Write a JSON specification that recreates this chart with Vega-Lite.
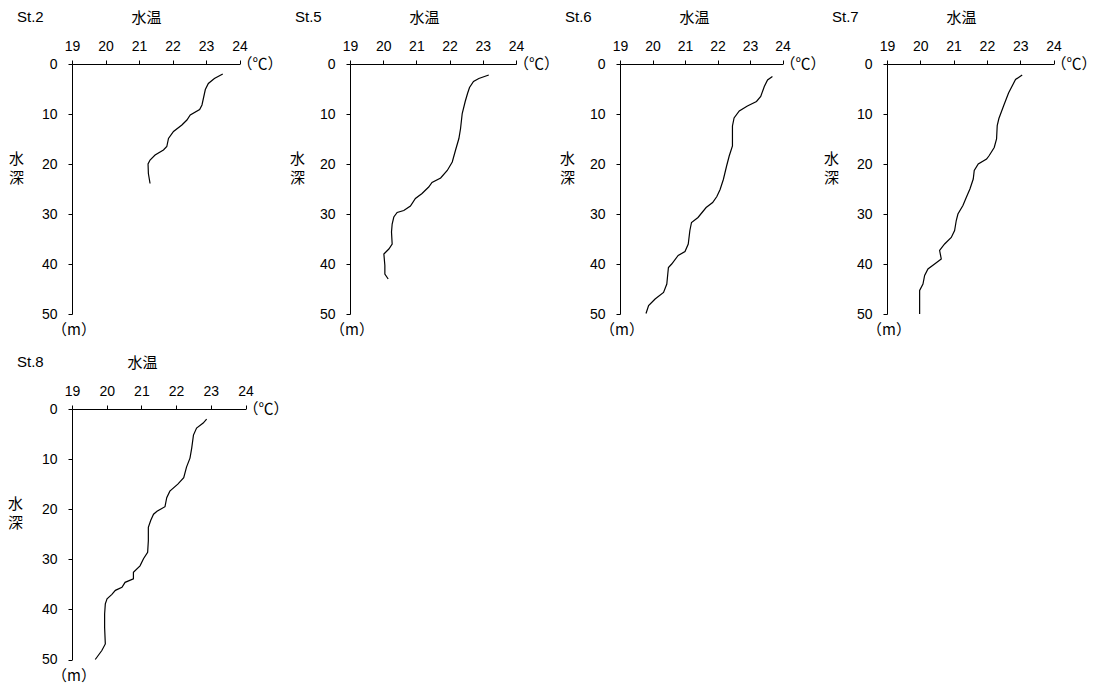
{
  "$schema": "https://vega.github.io/schema/vega-lite/v6.json",
  "padding": {"left": 7, "top": 10, "right": 0, "bottom": 5},
  "background": "white",
  "datasets": {
    "profiles": [
      {"st": "St.2", "d": 2.0, "t": 23.50}, {"st": "St.2", "d": 2.9, "t": 23.25}, {"st": "St.2", "d": 3.9, "t": 23.07}, {"st": "St.2", "d": 5.1, "t": 22.98}, {"st": "St.2", "d": 8.2, "t": 22.88}, {"st": "St.2", "d": 9.1, "t": 22.81}, {"st": "St.2", "d": 10.2, "t": 22.53}, {"st": "St.2", "d": 11.2, "t": 22.43}, {"st": "St.2", "d": 12.2, "t": 22.28}, {"st": "St.2", "d": 13.5, "t": 22.03}, {"st": "St.2", "d": 14.9, "t": 21.88}, {"st": "St.2", "d": 16.5, "t": 21.83}, {"st": "St.2", "d": 17.2, "t": 21.73}, {"st": "St.2", "d": 18.2, "t": 21.48}, {"st": "St.2", "d": 19.2, "t": 21.33}, {"st": "St.2", "d": 20.0, "t": 21.27}, {"st": "St.2", "d": 21.9, "t": 21.28}, {"st": "St.2", "d": 23.9, "t": 21.33},
      {"st": "St.5", "d": 2.2, "t": 23.18}, {"st": "St.5", "d": 2.9, "t": 22.88}, {"st": "St.5", "d": 3.5, "t": 22.72}, {"st": "St.5", "d": 4.7, "t": 22.60}, {"st": "St.5", "d": 5.9, "t": 22.54}, {"st": "St.5", "d": 7.5, "t": 22.47}, {"st": "St.5", "d": 9.9, "t": 22.38}, {"st": "St.5", "d": 12.9, "t": 22.33}, {"st": "St.5", "d": 14.9, "t": 22.28}, {"st": "St.5", "d": 17.2, "t": 22.18}, {"st": "St.5", "d": 19.6, "t": 22.08}, {"st": "St.5", "d": 21.3, "t": 21.93}, {"st": "St.5", "d": 22.8, "t": 21.73}, {"st": "St.5", "d": 23.7, "t": 21.47}, {"st": "St.5", "d": 24.6, "t": 21.37}, {"st": "St.5", "d": 25.9, "t": 21.17}, {"st": "St.5", "d": 26.9, "t": 20.97}, {"st": "St.5", "d": 28.4, "t": 20.82}, {"st": "St.5", "d": 29.3, "t": 20.62}, {"st": "St.5", "d": 29.7, "t": 20.42}, {"st": "St.5", "d": 30.6, "t": 20.32}, {"st": "St.5", "d": 32.0, "t": 20.27}, {"st": "St.5", "d": 33.6, "t": 20.25}, {"st": "St.5", "d": 36.0, "t": 20.27}, {"st": "St.5", "d": 37.0, "t": 20.17}, {"st": "St.5", "d": 38.0, "t": 20.02}, {"st": "St.5", "d": 40.3, "t": 20.05}, {"st": "St.5", "d": 42.0, "t": 20.05}, {"st": "St.5", "d": 43.0, "t": 20.15},
      {"st": "St.6", "d": 2.5, "t": 23.69}, {"st": "St.6", "d": 3.2, "t": 23.54}, {"st": "St.6", "d": 4.5, "t": 23.44}, {"st": "St.6", "d": 6.5, "t": 23.33}, {"st": "St.6", "d": 7.5, "t": 23.20}, {"st": "St.6", "d": 8.4, "t": 22.92}, {"st": "St.6", "d": 9.4, "t": 22.67}, {"st": "St.6", "d": 10.8, "t": 22.51}, {"st": "St.6", "d": 12.4, "t": 22.46}, {"st": "St.6", "d": 16.4, "t": 22.46}, {"st": "St.6", "d": 18.4, "t": 22.36}, {"st": "St.6", "d": 20.4, "t": 22.28}, {"st": "St.6", "d": 23.1, "t": 22.18}, {"st": "St.6", "d": 25.1, "t": 22.08}, {"st": "St.6", "d": 26.5, "t": 21.98}, {"st": "St.6", "d": 27.7, "t": 21.85}, {"st": "St.6", "d": 28.7, "t": 21.65}, {"st": "St.6", "d": 30.7, "t": 21.40}, {"st": "St.6", "d": 31.7, "t": 21.20}, {"st": "St.6", "d": 33.3, "t": 21.15}, {"st": "St.6", "d": 36.0, "t": 21.10}, {"st": "St.6", "d": 37.5, "t": 21.00}, {"st": "St.6", "d": 38.3, "t": 20.79}, {"st": "St.6", "d": 40.0, "t": 20.59}, {"st": "St.6", "d": 40.7, "t": 20.49}, {"st": "St.6", "d": 42.0, "t": 20.47}, {"st": "St.6", "d": 44.0, "t": 20.44}, {"st": "St.6", "d": 45.7, "t": 20.34}, {"st": "St.6", "d": 47.0, "t": 20.08}, {"st": "St.6", "d": 48.3, "t": 19.88}, {"st": "St.6", "d": 49.9, "t": 19.80},
      {"st": "St.7", "d": 2.2, "t": 23.06}, {"st": "St.7", "d": 3.1, "t": 22.86}, {"st": "St.7", "d": 5.8, "t": 22.65}, {"st": "St.7", "d": 8.4, "t": 22.50}, {"st": "St.7", "d": 10.9, "t": 22.36}, {"st": "St.7", "d": 12.3, "t": 22.31}, {"st": "St.7", "d": 15.0, "t": 22.29}, {"st": "St.7", "d": 16.7, "t": 22.22}, {"st": "St.7", "d": 18.3, "t": 22.07}, {"st": "St.7", "d": 19.0, "t": 21.99}, {"st": "St.7", "d": 20.0, "t": 21.74}, {"st": "St.7", "d": 21.3, "t": 21.62}, {"st": "St.7", "d": 23.0, "t": 21.59}, {"st": "St.7", "d": 25.0, "t": 21.49}, {"st": "St.7", "d": 26.7, "t": 21.38}, {"st": "St.7", "d": 28.3, "t": 21.28}, {"st": "St.7", "d": 30.0, "t": 21.13}, {"st": "St.7", "d": 31.3, "t": 21.08}, {"st": "St.7", "d": 33.3, "t": 21.03}, {"st": "St.7", "d": 34.7, "t": 20.93}, {"st": "St.7", "d": 36.0, "t": 20.73}, {"st": "St.7", "d": 37.3, "t": 20.58}, {"st": "St.7", "d": 39.0, "t": 20.63}, {"st": "St.7", "d": 40.0, "t": 20.43}, {"st": "St.7", "d": 41.0, "t": 20.23}, {"st": "St.7", "d": 42.3, "t": 20.13}, {"st": "St.7", "d": 44.0, "t": 20.08}, {"st": "St.7", "d": 45.3, "t": 19.98}, {"st": "St.7", "d": 50.0, "t": 19.98},
      {"st": "St.8", "d": 2.0, "t": 22.88}, {"st": "St.8", "d": 2.8, "t": 22.78}, {"st": "St.8", "d": 3.8, "t": 22.59}, {"st": "St.8", "d": 5.2, "t": 22.50}, {"st": "St.8", "d": 7.8, "t": 22.45}, {"st": "St.8", "d": 9.8, "t": 22.40}, {"st": "St.8", "d": 11.6, "t": 22.30}, {"st": "St.8", "d": 13.7, "t": 22.22}, {"st": "St.8", "d": 15.0, "t": 22.05}, {"st": "St.8", "d": 16.4, "t": 21.82}, {"st": "St.8", "d": 17.7, "t": 21.73}, {"st": "St.8", "d": 19.5, "t": 21.68}, {"st": "St.8", "d": 20.4, "t": 21.45}, {"st": "St.8", "d": 21.0, "t": 21.35}, {"st": "St.8", "d": 22.2, "t": 21.27}, {"st": "St.8", "d": 23.6, "t": 21.20}, {"st": "St.8", "d": 26.3, "t": 21.20}, {"st": "St.8", "d": 28.6, "t": 21.18}, {"st": "St.8", "d": 29.9, "t": 21.06}, {"st": "St.8", "d": 31.3, "t": 20.96}, {"st": "St.8", "d": 32.6, "t": 20.77}, {"st": "St.8", "d": 33.9, "t": 20.77}, {"st": "St.8", "d": 34.6, "t": 20.53}, {"st": "St.8", "d": 35.6, "t": 20.44}, {"st": "St.8", "d": 36.2, "t": 20.25}, {"st": "St.8", "d": 37.0, "t": 20.15}, {"st": "St.8", "d": 37.9, "t": 20.01}, {"st": "St.8", "d": 38.9, "t": 19.96}, {"st": "St.8", "d": 40.9, "t": 19.94}, {"st": "St.8", "d": 43.6, "t": 19.94}, {"st": "St.8", "d": 46.9, "t": 19.96}, {"st": "St.8", "d": 48.2, "t": 19.86}, {"st": "St.8", "d": 50.0, "t": 19.67}
    ],
    "one": [{"k": 1}]
  },
  "columns": 4,
  "align": "none",
  "bounds": "flush",
  "spacing": {"row": 95, "column": 104},
  "concat": [
    {
      "title": {"text": "St.2"},
      "width": 167.5, "height": 250,
      "layer": [
        {"data": {"name": "profiles"}, "transform": [{"filter": "datum.st === 'St.2'"}],
         "mark": {"type": "line", "color": "black", "strokeWidth": 1.2},
         "encoding": {
           "x": {"field": "t", "type": "quantitative", "scale": {"domain": [19, 24], "nice": false, "zero": false}, "axis": {"orient": "top", "values": [19, 20, 21, 22, 23, 24], "title": "水温", "titleX": 74, "titleY": -47, "titleAlign": "center", "titleBaseline": "middle", "labelPadding": 7}},
           "y": {"field": "d", "type": "quantitative", "scale": {"domain": [0, 50], "reverse": true, "nice": false, "zero": false}, "axis": {"values": [0, 10, 20, 30, 40, 50], "title": ["水", "深"], "titleAngle": 0, "titleX": -56, "titleY": 94, "titleAlign": "center", "titleBaseline": "middle", "titleLineHeight": 19, "labelPadding": 11}},
           "order": {"field": "d", "type": "quantitative"}}},
        {"data": {"name": "one"},
         "mark": {"type": "text", "text": "（℃）", "align": "left", "baseline": "middle", "dx": -2, "fontSize": 15, "font": "Noto Sans CJK JP", "color": "black"},
         "encoding": {
           "x": {"datum": 24, "type": "quantitative", "scale": {"domain": [19, 24], "nice": false, "zero": false}, "axis": {"orient": "top", "values": [19, 20, 21, 22, 23, 24], "title": "水温", "titleX": 74, "titleY": -47, "titleAlign": "center", "titleBaseline": "middle", "labelPadding": 7}},
           "y": {"datum": 0, "type": "quantitative", "scale": {"domain": [0, 50], "reverse": true, "nice": false, "zero": false}, "axis": {"values": [0, 10, 20, 30, 40, 50], "title": ["水", "深"], "titleAngle": 0, "titleX": -56, "titleY": 94, "titleAlign": "center", "titleBaseline": "middle", "titleLineHeight": 19, "labelPadding": 11}}}},
        {"data": {"name": "one"},
         "mark": {"type": "text", "text": "（m）", "align": "center", "baseline": "middle", "dx": 2, "dy": 16, "fontSize": 15, "font": "Noto Sans CJK JP", "color": "black"},
         "encoding": {
           "x": {"datum": 19, "type": "quantitative", "scale": {"domain": [19, 24], "nice": false, "zero": false}, "axis": {"orient": "top", "values": [19, 20, 21, 22, 23, 24], "title": "水温", "titleX": 74, "titleY": -47, "titleAlign": "center", "titleBaseline": "middle", "labelPadding": 7}},
           "y": {"datum": 50, "type": "quantitative", "scale": {"domain": [0, 50], "reverse": true, "nice": false, "zero": false}, "axis": {"values": [0, 10, 20, 30, 40, 50], "title": ["水", "深"], "titleAngle": 0, "titleX": -56, "titleY": 94, "titleAlign": "center", "titleBaseline": "middle", "titleLineHeight": 19, "labelPadding": 11}}}}
      ]
    },
    {
      "title": {"text": "St.5"},
      "width": 166, "height": 250,
      "layer": [
        {"data": {"name": "profiles"}, "transform": [{"filter": "datum.st === 'St.5'"}],
         "mark": {"type": "line", "color": "black", "strokeWidth": 1.2},
         "encoding": {
           "x": {"field": "t", "type": "quantitative", "scale": {"domain": [19, 24], "nice": false, "zero": false}, "axis": {"orient": "top", "values": [19, 20, 21, 22, 23, 24], "title": "水温", "titleX": 74, "titleY": -47, "titleAlign": "center", "titleBaseline": "middle", "labelPadding": 7}},
           "y": {"field": "d", "type": "quantitative", "scale": {"domain": [0, 50], "reverse": true, "nice": false, "zero": false}, "axis": {"values": [0, 10, 20, 30, 40, 50], "title": ["水", "深"], "titleAngle": 0, "titleX": -53, "titleY": 94, "titleAlign": "center", "titleBaseline": "middle", "titleLineHeight": 19, "labelPadding": 11}},
           "order": {"field": "d", "type": "quantitative"}}},
        {"data": {"name": "one"},
         "mark": {"type": "text", "text": "（℃）", "align": "left", "baseline": "middle", "dx": -2, "fontSize": 15, "font": "Noto Sans CJK JP", "color": "black"},
         "encoding": {
           "x": {"datum": 24, "type": "quantitative", "scale": {"domain": [19, 24], "nice": false, "zero": false}, "axis": {"orient": "top", "values": [19, 20, 21, 22, 23, 24], "title": "水温", "titleX": 74, "titleY": -47, "titleAlign": "center", "titleBaseline": "middle", "labelPadding": 7}},
           "y": {"datum": 0, "type": "quantitative", "scale": {"domain": [0, 50], "reverse": true, "nice": false, "zero": false}, "axis": {"values": [0, 10, 20, 30, 40, 50], "title": ["水", "深"], "titleAngle": 0, "titleX": -53, "titleY": 94, "titleAlign": "center", "titleBaseline": "middle", "titleLineHeight": 19, "labelPadding": 11}}}},
        {"data": {"name": "one"},
         "mark": {"type": "text", "text": "（m）", "align": "center", "baseline": "middle", "dx": 2, "dy": 16, "fontSize": 15, "font": "Noto Sans CJK JP", "color": "black"},
         "encoding": {
           "x": {"datum": 19, "type": "quantitative", "scale": {"domain": [19, 24], "nice": false, "zero": false}, "axis": {"orient": "top", "values": [19, 20, 21, 22, 23, 24], "title": "水温", "titleX": 74, "titleY": -47, "titleAlign": "center", "titleBaseline": "middle", "labelPadding": 7}},
           "y": {"datum": 50, "type": "quantitative", "scale": {"domain": [0, 50], "reverse": true, "nice": false, "zero": false}, "axis": {"values": [0, 10, 20, 30, 40, 50], "title": ["水", "深"], "titleAngle": 0, "titleX": -53, "titleY": 94, "titleAlign": "center", "titleBaseline": "middle", "titleLineHeight": 19, "labelPadding": 11}}}}
      ]
    },
    {
      "title": {"text": "St.6"},
      "width": 162.5, "height": 250,
      "layer": [
        {"data": {"name": "profiles"}, "transform": [{"filter": "datum.st === 'St.6'"}],
         "mark": {"type": "line", "color": "black", "strokeWidth": 1.2},
         "encoding": {
           "x": {"field": "t", "type": "quantitative", "scale": {"domain": [19, 24], "nice": false, "zero": false}, "axis": {"orient": "top", "values": [19, 20, 21, 22, 23, 24], "title": "水温", "titleX": 74, "titleY": -47, "titleAlign": "center", "titleBaseline": "middle", "labelPadding": 7}},
           "y": {"field": "d", "type": "quantitative", "scale": {"domain": [0, 50], "reverse": true, "nice": false, "zero": false}, "axis": {"values": [0, 10, 20, 30, 40, 50], "title": ["水", "深"], "titleAngle": 0, "titleX": -53, "titleY": 94, "titleAlign": "center", "titleBaseline": "middle", "titleLineHeight": 19, "labelPadding": 11}},
           "order": {"field": "d", "type": "quantitative"}}},
        {"data": {"name": "one"},
         "mark": {"type": "text", "text": "（℃）", "align": "left", "baseline": "middle", "dx": -2, "fontSize": 15, "font": "Noto Sans CJK JP", "color": "black"},
         "encoding": {
           "x": {"datum": 24, "type": "quantitative", "scale": {"domain": [19, 24], "nice": false, "zero": false}, "axis": {"orient": "top", "values": [19, 20, 21, 22, 23, 24], "title": "水温", "titleX": 74, "titleY": -47, "titleAlign": "center", "titleBaseline": "middle", "labelPadding": 7}},
           "y": {"datum": 0, "type": "quantitative", "scale": {"domain": [0, 50], "reverse": true, "nice": false, "zero": false}, "axis": {"values": [0, 10, 20, 30, 40, 50], "title": ["水", "深"], "titleAngle": 0, "titleX": -53, "titleY": 94, "titleAlign": "center", "titleBaseline": "middle", "titleLineHeight": 19, "labelPadding": 11}}}},
        {"data": {"name": "one"},
         "mark": {"type": "text", "text": "（m）", "align": "center", "baseline": "middle", "dx": 2, "dy": 16, "fontSize": 15, "font": "Noto Sans CJK JP", "color": "black"},
         "encoding": {
           "x": {"datum": 19, "type": "quantitative", "scale": {"domain": [19, 24], "nice": false, "zero": false}, "axis": {"orient": "top", "values": [19, 20, 21, 22, 23, 24], "title": "水温", "titleX": 74, "titleY": -47, "titleAlign": "center", "titleBaseline": "middle", "labelPadding": 7}},
           "y": {"datum": 50, "type": "quantitative", "scale": {"domain": [0, 50], "reverse": true, "nice": false, "zero": false}, "axis": {"values": [0, 10, 20, 30, 40, 50], "title": ["水", "深"], "titleAngle": 0, "titleX": -53, "titleY": 94, "titleAlign": "center", "titleBaseline": "middle", "titleLineHeight": 19, "labelPadding": 11}}}}
      ]
    },
    {
      "title": {"text": "St.7"},
      "width": 166.5, "height": 250,
      "layer": [
        {"data": {"name": "profiles"}, "transform": [{"filter": "datum.st === 'St.7'"}],
         "mark": {"type": "line", "color": "black", "strokeWidth": 1.2},
         "encoding": {
           "x": {"field": "t", "type": "quantitative", "scale": {"domain": [19, 24], "nice": false, "zero": false}, "axis": {"orient": "top", "values": [19, 20, 21, 22, 23, 24], "title": "水温", "titleX": 74, "titleY": -47, "titleAlign": "center", "titleBaseline": "middle", "labelPadding": 7}},
           "y": {"field": "d", "type": "quantitative", "scale": {"domain": [0, 50], "reverse": true, "nice": false, "zero": false}, "axis": {"values": [0, 10, 20, 30, 40, 50], "title": ["水", "深"], "titleAngle": 0, "titleX": -56, "titleY": 94, "titleAlign": "center", "titleBaseline": "middle", "titleLineHeight": 19, "labelPadding": 11}},
           "order": {"field": "d", "type": "quantitative"}}},
        {"data": {"name": "one"},
         "mark": {"type": "text", "text": "（℃）", "align": "left", "baseline": "middle", "dx": -2, "fontSize": 15, "font": "Noto Sans CJK JP", "color": "black"},
         "encoding": {
           "x": {"datum": 24, "type": "quantitative", "scale": {"domain": [19, 24], "nice": false, "zero": false}, "axis": {"orient": "top", "values": [19, 20, 21, 22, 23, 24], "title": "水温", "titleX": 74, "titleY": -47, "titleAlign": "center", "titleBaseline": "middle", "labelPadding": 7}},
           "y": {"datum": 0, "type": "quantitative", "scale": {"domain": [0, 50], "reverse": true, "nice": false, "zero": false}, "axis": {"values": [0, 10, 20, 30, 40, 50], "title": ["水", "深"], "titleAngle": 0, "titleX": -56, "titleY": 94, "titleAlign": "center", "titleBaseline": "middle", "titleLineHeight": 19, "labelPadding": 11}}}},
        {"data": {"name": "one"},
         "mark": {"type": "text", "text": "（m）", "align": "center", "baseline": "middle", "dx": 2, "dy": 16, "fontSize": 15, "font": "Noto Sans CJK JP", "color": "black"},
         "encoding": {
           "x": {"datum": 19, "type": "quantitative", "scale": {"domain": [19, 24], "nice": false, "zero": false}, "axis": {"orient": "top", "values": [19, 20, 21, 22, 23, 24], "title": "水温", "titleX": 74, "titleY": -47, "titleAlign": "center", "titleBaseline": "middle", "labelPadding": 7}},
           "y": {"datum": 50, "type": "quantitative", "scale": {"domain": [0, 50], "reverse": true, "nice": false, "zero": false}, "axis": {"values": [0, 10, 20, 30, 40, 50], "title": ["水", "深"], "titleAngle": 0, "titleX": -56, "titleY": 94, "titleAlign": "center", "titleBaseline": "middle", "titleLineHeight": 19, "labelPadding": 11}}}}
      ]
    },
    {
      "title": {"text": "St.8"},
      "width": 173.5, "height": 250.5,
      "layer": [
        {"data": {"name": "profiles"}, "transform": [{"filter": "datum.st === 'St.8'"}],
         "mark": {"type": "line", "color": "black", "strokeWidth": 1.2},
         "encoding": {
           "x": {"field": "t", "type": "quantitative", "scale": {"domain": [19, 24], "nice": false, "zero": false}, "axis": {"orient": "top", "values": [19, 20, 21, 22, 23, 24], "title": "水温", "titleX": 70, "titleY": -47, "titleAlign": "center", "titleBaseline": "middle", "labelPadding": 7}},
           "y": {"field": "d", "type": "quantitative", "scale": {"domain": [0, 50], "reverse": true, "nice": false, "zero": false}, "axis": {"values": [0, 10, 20, 30, 40, 50], "title": ["水", "深"], "titleAngle": 0, "titleX": -57, "titleY": 94, "titleAlign": "center", "titleBaseline": "middle", "titleLineHeight": 19, "labelPadding": 11}},
           "order": {"field": "d", "type": "quantitative"}}},
        {"data": {"name": "one"},
         "mark": {"type": "text", "text": "（℃）", "align": "left", "baseline": "middle", "dx": -2, "fontSize": 15, "font": "Noto Sans CJK JP", "color": "black"},
         "encoding": {
           "x": {"datum": 24, "type": "quantitative", "scale": {"domain": [19, 24], "nice": false, "zero": false}, "axis": {"orient": "top", "values": [19, 20, 21, 22, 23, 24], "title": "水温", "titleX": 70, "titleY": -47, "titleAlign": "center", "titleBaseline": "middle", "labelPadding": 7}},
           "y": {"datum": 0, "type": "quantitative", "scale": {"domain": [0, 50], "reverse": true, "nice": false, "zero": false}, "axis": {"values": [0, 10, 20, 30, 40, 50], "title": ["水", "深"], "titleAngle": 0, "titleX": -57, "titleY": 94, "titleAlign": "center", "titleBaseline": "middle", "titleLineHeight": 19, "labelPadding": 11}}}},
        {"data": {"name": "one"},
         "mark": {"type": "text", "text": "（m）", "align": "center", "baseline": "middle", "dx": 2, "dy": 16, "fontSize": 15, "font": "Noto Sans CJK JP", "color": "black"},
         "encoding": {
           "x": {"datum": 19, "type": "quantitative", "scale": {"domain": [19, 24], "nice": false, "zero": false}, "axis": {"orient": "top", "values": [19, 20, 21, 22, 23, 24], "title": "水温", "titleX": 70, "titleY": -47, "titleAlign": "center", "titleBaseline": "middle", "labelPadding": 7}},
           "y": {"datum": 50, "type": "quantitative", "scale": {"domain": [0, 50], "reverse": true, "nice": false, "zero": false}, "axis": {"values": [0, 10, 20, 30, 40, 50], "title": ["水", "深"], "titleAngle": 0, "titleX": -57, "titleY": 94, "titleAlign": "center", "titleBaseline": "middle", "titleLineHeight": 19, "labelPadding": 11}}}}
      ]
    }
  ],
  "config": {
    "view": {"stroke": null},
    "axis": {"grid": false, "domainColor": "black", "tickColor": "black", "labelColor": "black", "titleColor": "black", "labelFont": "Liberation Sans", "labelFontSize": 14, "titleFont": "Noto Sans CJK JP", "titleFontSize": 15, "titleFontWeight": "normal", "tickSize": 4, "domainWidth": 1, "tickWidth": 1, "labelOverlap": false, "labelFlush": false},
    "title": {"anchor": "start", "frame": "group", "dx": -55, "dy": 19, "font": "Liberation Sans", "fontSize": 15, "fontWeight": "normal", "color": "black", "baseline": "middle", "offset": 0}
  }
}
